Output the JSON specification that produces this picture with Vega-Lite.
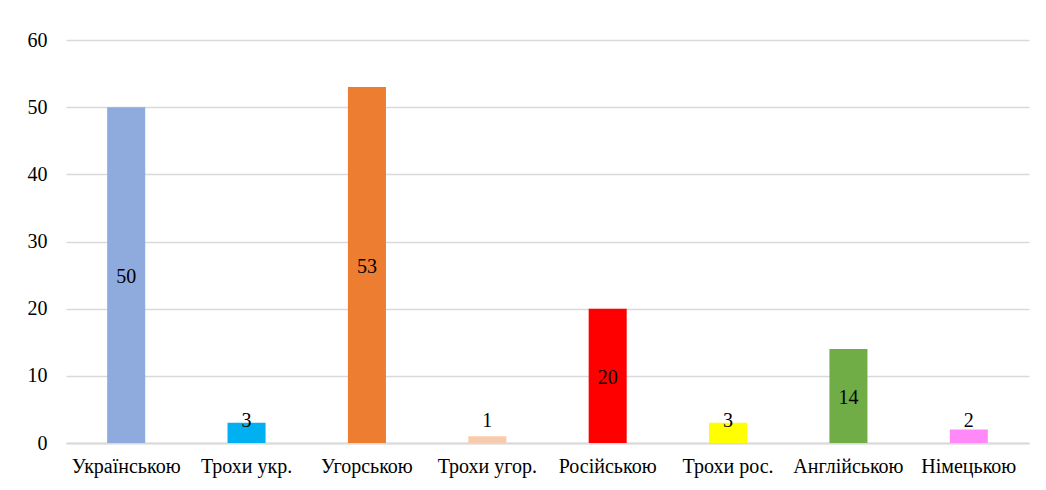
{
  "$schema": "https://vega.github.io/schema/vega-lite/v6.json",
  "width": 963,
  "height": 403,
  "autosize": "none",
  "padding": {"left": 66, "top": 40, "right": 17, "bottom": 47},
  "background": "white",
  "config": {"view": {"stroke": null}, "font": "Liberation Serif"},
  "data": {"values": [
    {"lang": "Українською", "value": 50, "color": "#8FAADC"},
    {"lang": "Трохи укр.", "value": 3, "color": "#00B0F0"},
    {"lang": "Угорською", "value": 53, "color": "#ED7D31"},
    {"lang": "Трохи угор.", "value": 1, "color": "#F8CBAD"},
    {"lang": "Російською", "value": 20, "color": "#FF0000"},
    {"lang": "Трохи рос.", "value": 3, "color": "#FFFF00"},
    {"lang": "Англійською", "value": 14, "color": "#70AD47"},
    {"lang": "Німецькою", "value": 2, "color": "#FF8AF7"}
  ]},
  "encoding": {
    "x": {"field": "lang", "type": "nominal", "sort": null,
      "scale": {"paddingInner": 0.684, "paddingOuter": 0.342},
      "axis": {"title": null, "labelAngle": 0, "labelFontSize": 20, "labelColor": "#000000",
        "labelFont": "Liberation Serif", "ticks": false, "labelPadding": 13,
        "domainColor": "#D9D9D9", "domainWidth": 2}}
  },
  "layer": [
    {
      "mark": {"type": "bar"},
      "encoding": {
        "y": {"field": "value", "type": "quantitative",
          "scale": {"domain": [0, 60], "nice": false},
          "axis": {"title": null, "values": [0, 10, 20, 30, 40, 50, 60], "labelFontSize": 20,
            "labelColor": "#000000", "labelFont": "Liberation Serif", "ticks": false, "domain": false,
            "labelPadding": 19, "gridColor": "#D9D9D9", "gridWidth": 1.5}},
        "color": {"field": "color", "type": "nominal", "scale": null}
      }
    },
    {
      "transform": [{"calculate": "max(datum.value / 2, 3.6)", "as": "labelPos"}],
      "mark": {"type": "text", "fontSize": 20, "font": "Liberation Serif", "color": "#000000", "baseline": "middle", "dy": 2},
      "encoding": {
        "y": {"field": "labelPos", "type": "quantitative"},
        "text": {"field": "value", "type": "quantitative"}
      }
    }
  ]
}
